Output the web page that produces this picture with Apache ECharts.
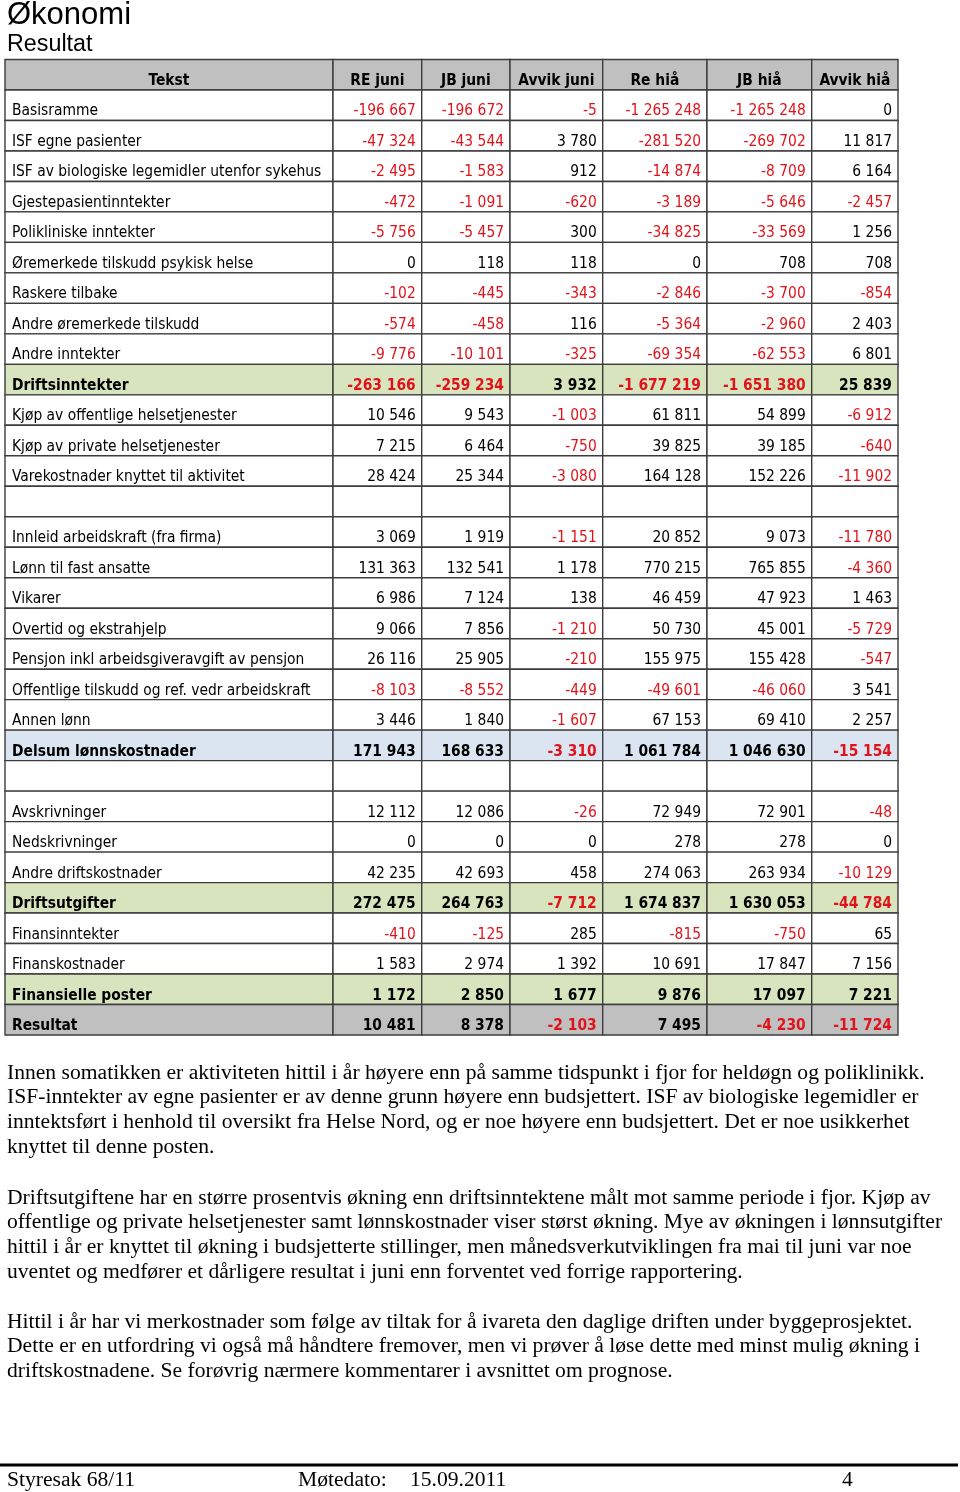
<!DOCTYPE html>
<html>
<head>
<meta charset="utf-8">
<script src="https://cdn.jsdelivr.net/npm/echarts@6/dist/echarts.min.js"></script>
<style>
  html, body { margin: 0; padding: 0; background: #fff; }
  #chart { width: 960px; height: 1492px; }
</style>
</head>
<body>
<div id="chart"></div>
<script>
// ---------- data ----------
const headers = ['Tekst', 'RE juni', 'JB juni', 'Avvik juni', 'Re hiå', 'JB hiå', 'Avvik hiå'];
const rowLabels = [
  'Basisramme', 'ISF egne pasienter', 'ISF av biologiske legemidler utenfor sykehus',
  'Gjestepasientinntekter', 'Polikliniske inntekter', 'Øremerkede tilskudd psykisk helse',
  'Raskere tilbake', 'Andre øremerkede tilskudd', 'Andre inntekter', 'Driftsinntekter',
  'Kjøp av offentlige helsetjenester', 'Kjøp av private helsetjenester',
  'Varekostnader knyttet til aktivitet', '', 'Innleid arbeidskraft (fra firma)',
  'Lønn til fast ansatte', 'Vikarer', 'Overtid og ekstrahjelp',
  'Pensjon inkl arbeidsgiveravgift av pensjon', 'Offentlige tilskudd og ref. vedr arbeidskraft',
  'Annen lønn', 'Delsum lønnskostnader', '', 'Avskrivninger', 'Nedskrivninger',
  'Andre driftskostnader', 'Driftsutgifter', 'Finansinntekter', 'Finanskostnader',
  'Finansielle poster', 'Resultat'
];
const reJuni = [-196667, -47324, -2495, -472, -5756, 0, -102, -574, -9776, -263166, 10546, 7215, 28424, null, 3069, 131363, 6986, 9066, 26116, -8103, 3446, 171943, null, 12112, 0, 42235, 272475, -410, 1583, 1172, 10481];
const jbJuni = [-196672, -43544, -1583, -1091, -5457, 118, -445, -458, -10101, -259234, 9543, 6464, 25344, null, 1919, 132541, 7124, 7856, 25905, -8552, 1840, 168633, null, 12086, 0, 42693, 264763, -125, 2974, 2850, 8378];
const avvikJuni = [-5, 3780, 912, -620, 300, 118, -343, 116, -325, 3932, -1003, -750, -3080, null, -1151, 1178, 138, -1210, -210, -449, -1607, -3310, null, -26, 0, 458, -7712, 285, 1392, 1677, -2103];
const reHia = [-1265248, -281520, -14874, -3189, -34825, 0, -2846, -5364, -69354, -1677219, 61811, 39825, 164128, null, 20852, 770215, 46459, 50730, 155975, -49601, 67153, 1061784, null, 72949, 278, 274063, 1674837, -815, 10691, 9876, 7495];
const jbHia = [-1265248, -269702, -8709, -5646, -33569, 708, -3700, -2960, -62553, -1651380, 54899, 39185, 152226, null, 9073, 765855, 47923, 45001, 155428, -46060, 69410, 1046630, null, 72901, 278, 263934, 1630053, -750, 17847, 17097, -4230];
const avvikHia = [0, 11817, 6164, -2457, 1256, 708, -854, 2403, 6801, 25839, -6912, -640, -11902, null, -11780, -4360, 1463, -5729, -547, 3541, 2257, -15154, null, -48, 0, -10129, -44784, 65, 7156, 7221, -11724];

const paragraphs = [
  ['Innen somatikken er aktiviteten hittil i år høyere enn på samme tidspunkt i fjor for heldøgn og poliklinikk.',
   'ISF-inntekter av egne pasienter er av denne grunn høyere enn budsjettert. ISF av biologiske legemidler er',
   'inntektsført i henhold til oversikt fra Helse Nord, og er noe høyere enn budsjettert. Det er noe usikkerhet',
   'knyttet til denne posten.'],
  ['Driftsutgiftene har en større prosentvis økning enn driftsinntektene målt mot samme periode i fjor. Kjøp av',
   'offentlige og private helsetjenester samt lønnskostnader viser størst økning. Mye av økningen i lønnsutgifter',
   'hittil i år er knyttet til økning i budsjetterte stillinger, men månedsverkutviklingen fra mai til juni var noe',
   'uventet og medfører et dårligere resultat i juni enn forventet ved forrige rapportering.'],
  ['Hittil i år har vi merkostnader som følge av tiltak for å ivareta den daglige driften under byggeprosjektet.',
   'Dette er en utfordring vi også må håndtere fremover, men vi prøver å løse dette med minst mulig økning i',
   'driftskostnadene. Se forøvrig nærmere kommentarer i avsnittet om prognose.']
];
const footerTexts = ['Styresak 68/11', 'Møtedato:', '15.09.2011', '4'];

// ---------- layout / style ----------
const colEdges = [0, 328, 416.7, 505, 597.7, 702, 806.7, 893];
const rowFill = {
  'Driftsinntekter': '#d7e4bd', 'Driftsutgifter': '#d7e4bd', 'Finansielle poster': '#d7e4bd',
  'Delsum lønnskostnader': '#dbe5f1', 'Resultat': '#c0c0c0'
};
const headerFill = '#c0c0c0';
const RED = '#e0131b';
const cellFont = '"DejaVu Sans Condensed", "DejaVu Sans", sans-serif';
const serif = '"Liberation Serif", "Times New Roman", serif';
const serifSize = 21.6;

function fmt(v) {
  if (v === null || v === undefined) return '';
  const neg = v < 0;
  const s = String(Math.abs(v)).replace(/\B(?=(\d{3})+(?!\d))/g, ' ');
  return (neg ? '-' : '') + s;
}

const columns = [reJuni, jbJuni, avvikJuni, reHia, jbHia, avvikHia];
const cells = [];
headers.forEach((h, c) => cells.push({ value: [c, 0], text: h, header: true }));
rowLabels.forEach((label, i) => {
  const r = i + 1;
  const fill = rowFill[label] || '#ffffff';
  const bold = !!rowFill[label];
  cells.push({ value: [0, r], text: label, fill, bold, align: 'left', color: '#000' });
  columns.forEach((col, k) => {
    const v = col[i];
    cells.push({ value: [k + 1, r], text: fmt(v), fill, bold, align: 'right',
      color: (v !== null && v < 0) ? RED : '#000' });
  });
});

const chart = echarts.init(document.getElementById('chart'), null, { renderer: 'canvas' });

function renderCell(params, api) {
  const cell = cells[params.dataIndex];
  const c = api.value(0), r = api.value(1);
  const p0 = api.coord([colEdges[c], r]);
  const p1 = api.coord([colEdges[c + 1], r]);
  const h = api.size([0, 1])[1];
  const y0 = p0[1] - h / 2;
  const w = p1[0] - p0[0];
  let tx, align;
  if (cell.header) { tx = p0[0] + w / 2; align = 'center'; }
  else if (cell.align === 'left') { tx = p0[0] + 7; align = 'left'; }
  else { tx = p1[0] - 6; align = 'right'; }
  const fsz = 15.4;
  return {
    type: 'group',
    children: [
      { type: 'rect', shape: { x: p0[0], y: y0, width: w, height: h },
        style: { fill: cell.header ? headerFill : cell.fill, stroke: '#3c3c3c', lineWidth: 1.4 } },
      { type: 'text',
        style: { text: cell.text, x: tx, y: y0 + h - 1.5, align: align, verticalAlign: 'bottom',
          font: ((cell.header || cell.bold) ? 'bold ' : '') + fsz + 'px ' + cellFont,
          fill: cell.header ? '#000' : cell.color } }
    ]
  };
}

const graphics = [
  { type: 'text', x: 7, y: 15, style: { text: 'Økonomi', font: '31px "Liberation Sans", Arial, sans-serif', fill: '#000', verticalAlign: 'middle' } },
  { type: 'text', x: 7, y: 45, style: { text: 'Resultat', font: '23.3px "Liberation Sans", Arial, sans-serif', fill: '#000', verticalAlign: 'middle' } }
];
const paraStarts = [1073, 1198, 1322];
paragraphs.forEach((lines, pi) => {
  lines.forEach((ln, li) => {
    graphics.push({ type: 'text', x: 7, y: paraStarts[pi] + li * 24.8,
      style: { text: ln, font: serifSize + 'px ' + serif, fill: '#000', verticalAlign: 'middle' } });
  });
});
graphics.push({ type: 'rect', shape: { x: 0, y: 1463.5, width: 958, height: 3 }, style: { fill: '#000' } });
const footerX = [7, 298, 410, 842];
footerTexts.forEach((t, i) => {
  graphics.push({ type: 'text', x: footerX[i], y: 1480.5, style: { text: t, font: serifSize + 'px ' + serif, fill: '#000', verticalAlign: 'middle' } });
});

chart.setOption({
  animation: false,
  grid: { left: 5, top: 59.5, width: 893, height: 975.5 },
  xAxis: { type: 'value', min: 0, max: 893, show: false },
  yAxis: { type: 'category', inverse: true, show: false, data: ['Tekst'].concat(rowLabels.map((l, i) => l || ('_' + i))) },
  series: [{ type: 'custom', renderItem: renderCell, data: cells, clip: false }],
  graphic: graphics
});
</script>
</body>
</html>
